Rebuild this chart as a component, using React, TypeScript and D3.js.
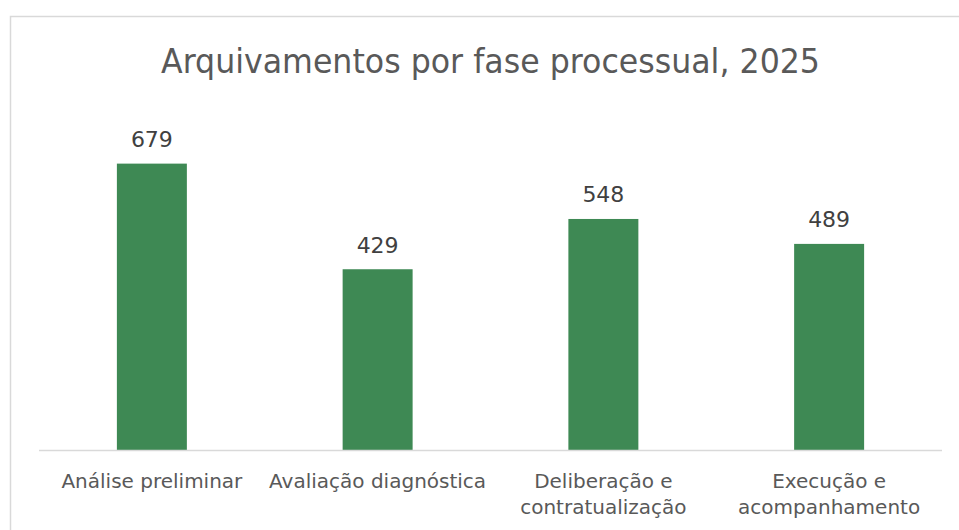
import React from "react";
import * as d3 from "d3";

const categories: string[][] = [
  ["Análise preliminar"],
  ["Avaliação diagnóstica"],
  ["Deliberação e", "contratualização"],
  ["Execução e", "acompanhamento"],
];
const values: number[] = [679, 429, 548, 489];
const title = "Arquivamentos por fase processual, 2025";

const W = 959;
const H = 530;
const plotLeft = 39;
const plotRight = 942;
const baseY = 450.5;
const topY = 112.5;

export default function App() {
  const x = d3
    .scaleBand<number>()
    .domain(values.map((_, i) => i))
    .range([plotLeft, plotRight])
    .paddingInner(0.69)
    .paddingOuter(0.345);
  const y = d3.scaleLinear().domain([0, 800]).range([baseY, topY]);
  const font = "'DejaVu Sans', sans-serif";
  return (
    <svg
      width={W}
      height={H}
      style={{ position: "absolute", left: 0, top: 0, background: "#fff" }}
    >
      <rect x={10.5} y={16.5} width={980} height={540} fill="#fff" stroke="#d9d9d9" strokeWidth={1.5} />
      <text
        x={490.5}
        y={72.5}
        textAnchor="middle"
        fontFamily={font}
        fontSize={33.5}
        fill="#595959"
        textLength={659}
        lengthAdjust="spacingAndGlyphs"
      >
        {title}
      </text>
      {values.map((v, i) => (
        <g key={i}>
          <rect
            x={x(i)}
            y={y(v)}
            width={x.bandwidth()}
            height={baseY - y(v)}
            fill="#3e8954"
          />
          <text
            x={(x(i) as number) + x.bandwidth() / 2}
            y={y(v) - 16.5}
            textAnchor="middle"
            fontFamily={font}
            fontSize={22}
            fill="#404040"
          >
            {v}
          </text>
        </g>
      ))}
      <line x1={plotLeft} x2={plotRight} y1={baseY} y2={baseY} stroke="#d9d9d9" strokeWidth={1.5} />
      {categories.map((lines, i) => (
        <text
          key={i}
          x={(x(i) as number) + x.bandwidth() / 2}
          y={487.5}
          textAnchor="middle"
          fontFamily={font}
          fontSize={20}
          fill="#595959"
        >
          {lines.map((l, j) => (
            <tspan key={j} x={(x(i) as number) + x.bandwidth() / 2} dy={j === 0 ? 0 : 26}>
              {l}
            </tspan>
          ))}
        </text>
      ))}
    </svg>
  );
}
